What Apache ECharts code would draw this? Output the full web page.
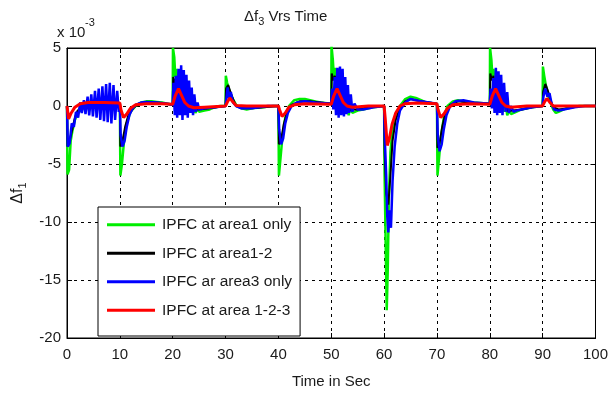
<!DOCTYPE html>
<html>
<head>
<meta charset="utf-8">
<script src="https://cdn.jsdelivr.net/npm/echarts@6/dist/echarts.min.js"></script>
<style>html,body{margin:0;padding:0;background:#fff;}#c{width:611px;height:394px;}</style>
</head>
<body>
<div id="c"></div>
<script>
// ---- data (time in s, value in units of 1e-3) ----
const seriesNames = ['IPFC at area1 only', 'IPFC at area1-2', 'IPFC ar area3 only', 'IPFC at area 1-2-3'];
const xTicks = [0, 10, 20, 30, 40, 50, 60, 70, 80, 90, 100];
const yTicks = [-20, -15, -10, -5, 0, 5];

const area1Only = [[0,0],[0.1,-5.9],[0.4,-5.5],[0.7,-3],[1.0,-2.2],[1.5,-1.2],[2,-0.6],[3,-0.2],[4,0.1],[5,0.3],[6,0.35],[7,0.3],[8,0.25],[9,0.2],[10,0.2],[10.1,-6],[10.4,-5],[10.8,-3],[11.3,-1.5],[12,-0.5],[13,0],[14,0.3],[15,0.4],[16,0.4],[17,0.35],[18,0.3],[19,0.2],[20,0.1],[20.05,5],[20.3,4.2],[20.5,2.5],[20.7,3.2],[20.9,1.8],[21.1,2.6],[21.3,1.2],[21.6,2],[21.9,0.8],[22.2,1.5],[22.5,0.3],[22.8,1],[23.1,-0.2],[23.4,0.6],[23.7,-0.5],[24,0.2],[24.3,-0.6],[24.7,-0.2],[25,-0.5],[26,-0.4],[27,-0.3],[28,-0.1],[29,0],[30,0],[30.05,2.6],[30.3,2],[30.6,1.5],[31,1],[31.5,0.5],[32,0.1],[33,-0.2],[34,-0.3],[35,-0.2],[37,-0.1],[39,0],[40,0],[40.1,-6],[40.4,-4.5],[40.8,-2.5],[41.3,-1],[42,0],[43,0.5],[44,0.6],[45,0.6],[46,0.5],[47,0.4],[48,0.3],[50,0.2],[50.05,5.2],[50.3,4],[50.5,2.5],[50.7,3.3],[50.9,1.5],[51.2,2.5],[51.5,0.8],[51.8,1.8],[52.1,0.2],[52.4,1.2],[52.7,-0.5],[53,0.5],[53.3,-0.8],[53.6,0],[54,-0.6],[55,-0.4],[56,-0.3],[57,-0.2],[58,-0.1],[60,0],[60.1,-6],[60.3,-12],[60.5,-17.6],[60.7,-14],[60.9,-8],[61.2,-4],[61.6,-2],[62.2,-0.8],[63,0],[64,0.6],[65,0.8],[66,0.7],[67,0.5],[68,0.3],[70,0.2],[70.1,-6],[70.4,-4.5],[70.8,-2.5],[71.3,-1],[72,0],[73,0.4],[74,0.5],[75,0.4],[77,0.3],[80,0.2],[80.05,5],[80.3,4],[80.5,2.5],[80.7,3.2],[80.9,1.5],[81.2,2.3],[81.5,0.7],[81.8,1.6],[82.1,0],[82.4,1],[82.7,-0.5],[83,0.3],[83.3,-0.8],[83.7,-0.3],[84,-0.7],[85,-0.5],[86,-0.3],[87,-0.2],[88,-0.1],[90,0],[90.05,3.4],[90.3,2.6],[90.6,1.8],[91,1],[91.5,0.3],[92,-0.3],[92.5,-0.6],[93,-0.5],[94,-0.3],[95,-0.1],[97,0],[100,0]];

const area12 = [[0,0],[0.1,-3.5],[0.5,-3],[1,-2],[1.5,-1],[2,-0.4],[3,0],[4,0.2],[6,0.3],[8,0.3],[10,0.2],[10.1,-3.5],[10.5,-3],[11,-1.8],[11.6,-0.8],[12.5,-0.2],[13.5,0.2],[15,0.35],[17,0.3],[20,0.1],[20.1,2.5],[20.4,2],[20.7,2.4],[21,1.5],[21.3,2],[21.7,1],[22,1.4],[22.4,0.4],[22.8,0.8],[23.2,0],[23.6,0.3],[24,-0.3],[25,-0.3],[27,-0.2],[30,0],[30.1,1.5],[30.5,1.8],[31,1.1],[31.5,0.5],[32,0],[33,-0.2],[35,-0.2],[40,0],[40.1,-3.3],[40.5,-3],[41,-1.6],[41.6,-0.6],[42.5,0.1],[44,0.4],[46,0.4],[48,0.3],[50,0.2],[50.1,2.8],[50.4,2.2],[50.7,2.6],[51,1.5],[51.3,2.2],[51.7,0.8],[52,1.4],[52.4,0.2],[52.8,0.6],[53.3,-0.4],[54,-0.3],[55,-0.3],[57,-0.1],[60,0],[60.1,-4],[60.4,-7.5],[60.8,-8.5],[61.2,-6],[61.6,-3],[62.2,-1.2],[63,-0.2],[64,0.4],[65,0.6],[67,0.4],[70,0.2],[70.1,-3.6],[70.5,-3.2],[71,-1.8],[71.6,-0.6],[72.5,0.1],[74,0.4],[76,0.3],[80,0.2],[80.1,2.8],[80.4,2.2],[80.7,2.6],[81,1.5],[81.3,2],[81.7,0.8],[82,1.3],[82.4,0.1],[82.8,0.5],[83.3,-0.4],[84,-0.4],[86,-0.3],[88,-0.1],[90,0],[90.1,1.2],[90.5,1.9],[91,1.3],[91.5,0.5],[92,-0.1],[93,-0.3],[95,-0.2],[97,0],[100,0]];

const area3Only = [[0,0],[0.15,-3.5],[0.5,-3.2],[0.9,-1.5],[1.3,-1.8],[1.7,-0.5],[2.1,-1],[2.5,0.3],[2.8,-0.6],[3.2,0.5],[3.5,-0.7],[3.9,0.8],[4.2,-0.8],[4.6,1],[4.9,-0.9],[5.3,1.3],[5.6,-1],[6,1.5],[6.3,-1.2],[6.7,1.7],[7,-1.3],[7.4,1.9],[7.7,-1.4],[8.1,2],[8.4,-1.5],[8.8,1.8],[9.1,-1.2],[9.5,1.3],[9.8,-0.5],[10,0.2],[10.15,-2.5],[10.5,-3.5],[10.9,-3],[11.3,-1.8],[11.8,-0.8],[12.4,-0.2],[13,0.1],[14,0.3],[15,0.35],[17,0.3],[19,0.2],[20,0.1],[20.15,2],[20.4,-0.8],[20.6,2.6],[20.85,-1],[21.1,3.2],[21.35,-0.8],[21.6,3.5],[21.85,-1.2],[22.1,3.1],[22.35,-0.8],[22.6,2.7],[22.85,-1],[23.1,2.2],[23.35,-0.6],[23.6,1.6],[23.85,-0.8],[24.1,1],[24.4,-0.5],[24.7,0.3],[25,-0.3],[26,-0.2],[28,-0.1],[30,0],[30.15,0.6],[30.4,1.6],[30.7,0.6],[31,1.2],[31.4,0.3],[32,0],[33,-0.2],[35,-0.2],[38,0],[40,0],[40.15,-2],[40.5,-3.3],[40.9,-2.8],[41.3,-1.5],[41.8,-0.6],[42.5,0],[43.5,0.3],[45,0.4],[47,0.3],[50,0.2],[50.15,1.5],[50.4,-0.3],[50.65,2.5],[50.9,-0.8],[51.15,3.3],[51.4,-1],[51.65,3.4],[51.9,-0.8],[52.15,3.2],[52.4,-0.9],[52.65,2.5],[52.9,-0.7],[53.15,1.8],[53.4,-0.6],[53.7,1],[54,-0.5],[54.4,0.2],[55,-0.3],[56,-0.3],[58,-0.1],[60,0],[60.15,-3],[60.4,-6],[60.6,-9.5],[60.8,-10.9],[61,-9],[61.3,-10.5],[61.6,-6.5],[62,-3.5],[62.5,-1.5],[63,-0.4],[64,0.3],[65,0.6],[67,0.4],[70,0.2],[70.15,-2.5],[70.5,-3.9],[70.9,-3.3],[71.3,-2],[71.8,-0.8],[72.5,0],[73.5,0.4],[75,0.5],[77,0.3],[80,0.2],[80.15,1.5],[80.4,-0.2],[80.65,2.4],[80.9,-0.6],[81.15,3.3],[81.4,-0.8],[81.65,3],[81.9,-0.6],[82.15,2.7],[82.4,-0.8],[82.7,2],[83,-0.5],[83.3,1.2],[83.6,-0.6],[84,0],[84.5,-0.5],[85,-0.4],[86,-0.3],[88,-0.1],[90,0],[90.15,0.8],[90.5,1.5],[90.9,0.8],[91.3,1.1],[91.7,0.2],[92.2,-0.3],[93,-0.4],[94,-0.3],[96,-0.1],[98,0],[100,0]];

const area123 = [[0,0],[0.3,-1.1],[0.8,-0.6],[1.5,-0.1],[2.5,0.2],[4,0.3],[7,0.3],[10,0.25],[10.2,-0.3],[10.7,-1],[11.3,-0.7],[12,-0.2],[13,0.1],[15,0.2],[18,0.2],[20,0.15],[20.5,0.9],[21.1,1.5],[21.7,0.9],[22.3,0.3],[23,0],[24,-0.15],[26,-0.1],[30,0],[30.3,0.3],[30.8,0.7],[31.3,0.4],[32,0.05],[34,0],[40,0],[40.2,-0.3],[40.7,-0.9],[41.3,-0.6],[42,-0.1],[43,0.1],[45,0.2],[50,0.15],[50.5,0.9],[51.1,1.5],[51.7,0.9],[52.3,0.3],[53,0],[54,-0.1],[57,0],[60,0],[60.2,-1],[60.6,-3.4],[61,-2.8],[61.5,-1.6],[62.2,-0.6],[63,0],[64,0.2],[66,0.25],[70,0.2],[70.2,-0.3],[70.7,-1],[71.3,-0.7],[72,-0.2],[73,0.1],[76,0.2],[80,0.15],[80.5,0.9],[81.1,1.5],[81.7,0.9],[82.3,0.3],[83,0],[84,-0.1],[87,0],[90,0],[90.3,0.3],[90.8,0.65],[91.3,0.35],[92,0],[100,0]];

const FF = '"Liberation Sans", Arial';
const TXT = '#1a1a1a';

const chart = echarts.init(document.getElementById('c'), null, {renderer:'canvas'});
const axisCommon = {
  type:'value',
  axisLine:{show:true,onZero:false,lineStyle:{color:'#000',width:1}},
  axisTick:{show:true,inside:true,length:5,lineStyle:{color:'#000'}},
  splitLine:{show:false}
};
const colors = ['#00ee00', '#000000', '#0000ff', '#ff0000'];
const widths = [2.5, 2, 2.5, 3];
const datas = [area1Only, area12, area3Only, area123];

chart.setOption({
  animation:false,
  backgroundColor:'#fff',
  grid:{left:67,right:12,top:48,bottom:56,show:true,borderColor:'#000',borderWidth:1,backgroundColor:'#fff'},
  xAxis:[
    Object.assign({}, axisCommon, {position:'bottom',min:xTicks[0],max:xTicks[xTicks.length-1],interval:10,
      axisLabel:{margin:9,color:TXT,fontSize:15,fontFamily:FF},
      splitLine:{show:true,lineStyle:{color:'#000',type:[3,4],width:1}},
      name:'Time in Sec',nameLocation:'middle',nameGap:36,
      nameTextStyle:{color:TXT,fontSize:15,fontFamily:FF}}),
    Object.assign({}, axisCommon, {position:'top',min:0,max:100,interval:10,axisLabel:{show:false}})
  ],
  yAxis:[
    Object.assign({}, axisCommon, {position:'left',min:yTicks[0],max:yTicks[yTicks.length-1],interval:5,
      axisLabel:{margin:6,color:TXT,fontSize:15,fontFamily:FF},
      splitLine:{show:true,lineStyle:{color:'#000',type:[3,4],width:1}},
      name:'{a|Δf}{b|1}',nameLocation:'middle',nameGap:38,nameRotate:90,
      nameTextStyle:{color:TXT,fontFamily:FF,rich:{a:{fontSize:16,fontFamily:FF,color:TXT},b:{fontSize:11,fontFamily:FF,color:TXT,padding:[10,0,0,0]}}}}),
    Object.assign({}, axisCommon, {position:'right',min:-20,max:5,interval:5,axisLabel:{show:false}})
  ],
  legend:{
    orient:'vertical',left:98,top:207,
    data:seriesNames,
    icon:'rect',itemWidth:48,itemHeight:3,itemGap:11,
    padding:[9,8,17,9],
    borderColor:'#000',borderWidth:1,backgroundColor:'#fff',
    textStyle:{color:TXT,fontSize:15.5,fontFamily:FF,lineHeight:17.5,padding:[0,0,0,2]}
  },
  graphic:[
    {type:'text',left:244,top:9,style:{text:'{a|Δf}{b|3}{a| Vrs Time}',fill:TXT,
      rich:{a:{fontSize:15,fontFamily:FF,fill:TXT},b:{fontSize:11,fontFamily:FF,fill:TXT,padding:[10,0,0,0]}}}},
    {type:'text',left:57,top:25,style:{text:'x 10',fill:TXT,fontSize:15,fontFamily:FF}},
    {type:'text',left:85,top:17,style:{text:'-3',fill:TXT,fontSize:11,fontFamily:FF}}
  ],
  series: datas.map((d,i)=>({
    name:seriesNames[i],type:'line',data:d,showSymbol:false,symbol:'none',
    xAxisIndex:0,yAxisIndex:0,
    lineStyle:{color:colors[i],width:widths[i]},itemStyle:{color:colors[i]},
    z:2+i,clip:true
  }))
});
</script>
</body>
</html>
